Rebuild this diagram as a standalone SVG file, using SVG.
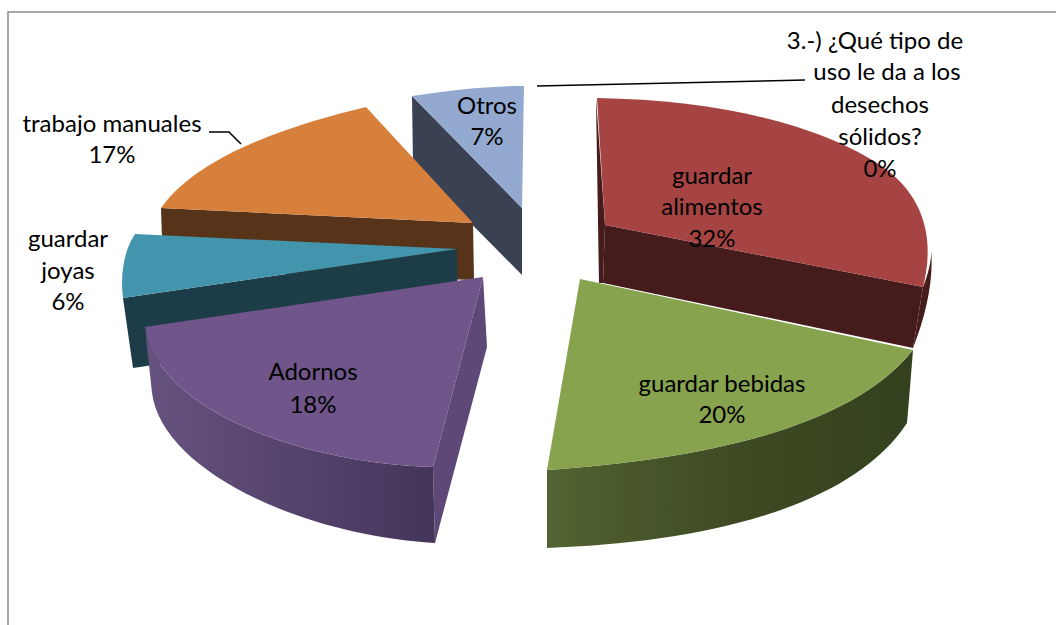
<svg xmlns="http://www.w3.org/2000/svg" width="1056" height="625" viewBox="0 0 1056 625">
<defs>
<linearGradient id="gGreen" gradientUnits="userSpaceOnUse" x1="547" y1="0" x2="907" y2="0">
<stop offset="0" stop-color="#536331"/><stop offset="0.5" stop-color="#3e4b24"/><stop offset="1" stop-color="#34411e"/>
</linearGradient>
<linearGradient id="gPurple" gradientUnits="userSpaceOnUse" x1="145" y1="0" x2="435" y2="0">
<stop offset="0" stop-color="#66527f"/><stop offset="1" stop-color="#44355a"/>
</linearGradient>
<style>
text{font-family:Lato,"Liberation Sans",sans-serif;font-size:24px;fill:#000;text-anchor:middle}
.lead{fill:none;stroke:#000;stroke-width:1.5}
</style>
</defs>
<rect width="1056" height="625" fill="#fff"/>
<path d="M8,625 L8,12 L1056,12" fill="none" stroke="#898989" stroke-width="1.5"/>

<g id="slice-otros">
<path d="M412,96 L522,208 L522,275 L413,165 Z" fill="#3a4152"/>
<path d="M412,96 C450,90 490,86 524,86 C523,130 523,170 522,208 Z" fill="#93a9cf"/>
<text x="487" y="114">Otros</text>
<text x="487" y="145">7%</text>
</g>

<g id="slice-alimentos">
<path d="M596,98 L605,225 L603,283 L599,283 Z" fill="#451b1b"/>
<path d="M923,287 C930,270 932,255 931,248 C934,280 926,315 913,348 Z" fill="#451b1b"/>
<path d="M605,225 L923,287 L913,348 L603,283 Z" fill="#451b1c"/>
<path d="M597,98 C720,100 820,125 880,165 C925,195 935,240 923,287 L605,225 Z" fill="#a64443"/>
<text x="712" y="184">guardar</text>
<text x="712" y="215">alimentos</text>
<text x="712" y="247">32%</text>
</g>

<g id="slice-manuales">
<path d="M161,208 L473,223 L474,280 L163,270 Z" fill="#573419"/>
<path d="M473,223 L366,107 C300,123 201,152 161,208 Z" fill="#d7803c"/>
</g>

<g id="slice-joyas">
<path d="M123,298 L457,249 L458,320 L133,368 Z" fill="#1c3c47"/>
<path d="M457,249 L135,234 C124,250 120,275 123,298 Z" fill="#4295ad"/>
</g>

<g id="slice-adornos">
<path d="M483,277 L487,347 L435,543 L433,467 Z" fill="#5d4877"/>
<path d="M145,327 C155,405 290,462 433,467 L435,543 C300,535 162,470 152,393 Z" fill="url(#gPurple)"/>
<path d="M483,277 L145,327 C155,405 290,462 433,467 Z" fill="#6f5589"/>
<text x="313" y="380">Adornos</text>
<text x="313" y="413">18%</text>
</g>

<g id="slice-bebidas">
<path d="M913,350 C851,429 697,460 547,470 L547,548 C697,543 850,510 907,423 C909,400 911,375 913,350 Z" fill="url(#gGreen)"/>
<path d="M580,279 L913,350 C851,429 697,460 547,470 Z" fill="#87a34e"/>
<text x="722" y="392">guardar bebidas</text>
<text x="722" y="423">20%</text>
</g>

<g id="connectors">
<path class="lead" d="M537,86 L805,80"/>
<path class="lead" d="M209,132 L229,132 L241,144"/>
</g>

<g id="labels">
<text x="875" y="49">3.-) ¿Qué tipo de</text>
<text x="887" y="80">uso le da a los</text>
<text x="880" y="113">desechos</text>
<text x="880" y="145">sólidos?</text>
<text x="880" y="177">0%</text>
<text x="112" y="132">trabajo manuales</text>
<text x="112" y="163">17%</text>
<text x="68" y="247">guardar</text>
<text x="68" y="279">joyas</text>
<text x="68" y="310">6%</text>
</g>
</svg>
